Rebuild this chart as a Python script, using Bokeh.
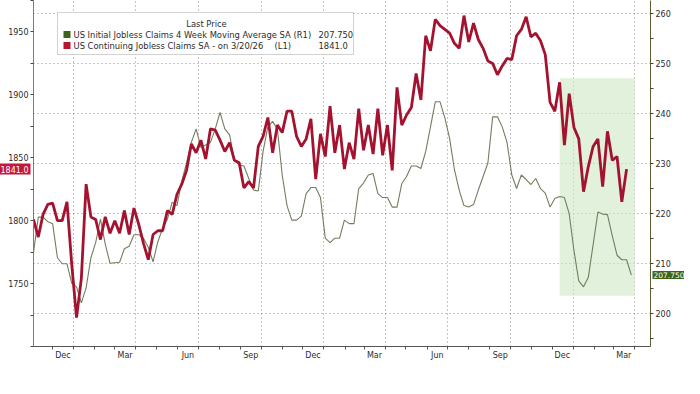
import pandas as pd
from bokeh.plotting import figure
from bokeh.models import (Range1d, LinearAxis, FixedTicker, Grid, Label,
                          BoxAnnotation, DatetimeTickFormatter)
from bokeh.embed import file_html
from bokeh.resources import INLINE

# ---------------- data ----------------
first_week = "2023-11-03"
last_date_text = "3/20/26"

continuing_claims = [
    1801, 1787, 1805, 1813, 1814, 1800, 1800, 1815, 1765, 1723,
    1754, 1829, 1803, 1801, 1785, 1803, 1790, 1800, 1790, 1808,
    1789, 1810, 1797, 1782, 1769, 1789, 1792, 1792, 1808, 1805,
    1821, 1829, 1840, 1861, 1854, 1864, 1849, 1873, 1872, 1864,
    1855, 1862, 1848, 1846, 1826, 1831, 1826, 1859, 1867, 1882,
    1854, 1876, 1870, 1887, 1887, 1867, 1859, 1865, 1881, 1833,
    1869, 1851, 1891, 1854, 1876, 1841, 1862, 1849, 1889, 1856,
    1876, 1853, 1889, 1852, 1876, 1840, 1906, 1876, 1884, 1890,
    1917, 1896, 1947, 1935, 1960, 1955, 1952, 1949, 1941, 1937,
    1963, 1942, 1957, 1944, 1937, 1927, 1925, 1916, 1923, 1929,
    1928, 1947, 1952, 1962, 1946, 1949, 1943, 1932, 1894, 1887,
    1910, 1860, 1901, 1874, 1865, 1823, 1843, 1859, 1865, 1827,
    1871, 1848, 1851, 1815, 1841.0,
]

initial_claims_4wk = [
    212.2, 219.3, 219.3, 218.4, 218.0, 211.2, 210.0, 210.0, 206.1, 205.4,
    202.2, 205.2, 211.2, 214.2, 218.9, 213.9, 210.1, 210.2, 210.3, 213.0,
    213.5, 215.8, 215.8, 215.1, 213.3, 210.4, 214.4, 217.1, 218.9, 222.3,
    221.6, 226.5, 230.1, 234.2, 236.9, 233.2, 233.7, 234.2, 236.9, 240.2,
    236.9, 235.7, 230.6, 229.7, 229.5, 227.0, 224.7, 224.5, 232.4, 237.3,
    238.4, 236.8, 227.7, 221.6, 218.7, 218.7, 219.5, 224.0, 225.2, 225.2,
    223.2, 215.1, 214.2, 215.1, 215.1, 218.7, 218.0, 218.0, 225.0, 226.1,
    227.7, 228.0, 224.0, 223.2, 223.2, 221.3, 221.3, 226.0, 227.4, 229.5,
    229.5, 229.0, 232.4, 237.3, 242.3, 242.3, 239.1, 235.0, 228.8, 224.7,
    221.6, 221.3, 221.8, 224.7, 227.4, 230.1, 239.3, 239.3, 237.3, 234.2,
    227.7, 225.0, 227.7, 226.8, 225.8, 227.0, 225.0, 224.1, 221.3, 223.0,
    223.4, 223.2, 220.0, 212.6, 206.6, 205.4, 207.3, 213.8, 220.3, 219.9,
    219.8, 215.6, 211.7, 210.8, 210.8, 207.75,
]

# highlight region (right-axis units)
highlight_start = ["2025-12-12"]
highlight_end = ["2026-04-01"]
highlight_low = [203.6]
highlight_high = [247.0]

x_start, x_end = "2023-11-03", "2026-04-24"
left_range = (1700, 1975)
right_range = (193.5, 262.5)
left_major = [1750, 1800, 1850, 1900, 1950]
left_minor = [1700, 1725, 1775, 1825, 1875, 1925, 1975]
right_major = [200, 210, 220, 230, 240, 250, 260]
right_minor = [195, 205, 215, 225, 235, 245, 255]
label_months = ["2023-12-16", "2024-03-16", "2024-06-16", "2024-09-16",
                "2024-12-16", "2025-03-16", "2025-06-16", "2025-09-16",
                "2025-12-16", "2026-03-16"]
grid_months = ["2024-01-01", "2024-04-01", "2024-07-01", "2024-10-01",
               "2025-01-01", "2025-04-01", "2025-07-01", "2025-10-01",
               "2026-01-01", "2026-04-01"]

# ---------------- styling ----------------
RED = "#a3132f"
GREEN_LINE = "#727e5e"
GREEN_DARK = "#3d6318"
FONT = "DejaVu Sans"
TXT = "#2b2b2b"
GRID = "#8a8a8a"
DASH = "1 3"
FW, FH = 617, 346


def ms(d):
    return pd.Timestamp(d).value / 1e6


red_dates = pd.date_range(first_week, periods=len(continuing_claims), freq="7D")
green_dates = pd.date_range(first_week, periods=len(initial_claims_4wk), freq="7D")

p = figure(frame_width=FW, frame_height=FH, x_axis_type="datetime",
           x_range=Range1d(pd.Timestamp(x_start), pd.Timestamp(x_end)),
           y_range=Range1d(*left_range),
           output_backend="svg", toolbar_location=None,
           min_border_left=33, min_border_right=34,
           min_border_top=0, min_border_bottom=0)
p.extra_y_ranges = {"right": Range1d(*right_range)}
p.outline_line_color = None
p.background_fill_color = "white"
p.border_fill_color = "white"

# left axis
la = p.yaxis[0]
la.ticker = FixedTicker(ticks=left_major, minor_ticks=left_minor)
la.axis_line_color = "#c4587a"
la.major_tick_line_color = "#444"
la.minor_tick_line_color = "#444"
la.major_tick_out = 3
la.major_tick_in = 0
la.minor_tick_out = 3
la.minor_tick_in = 0
la.major_label_text_font = FONT
la.major_label_text_font_size = "8px"
la.major_label_text_color = TXT
la.major_label_standoff = 2

# right axis
ra = LinearAxis(y_range_name="right",
                ticker=FixedTicker(ticks=right_major, minor_ticks=right_minor))
ra.axis_line_color = "#5c5c30"
ra.major_tick_line_color = "#444"
ra.minor_tick_line_color = "#444"
ra.major_tick_out = 3
ra.major_tick_in = 0
ra.minor_tick_out = 3
ra.minor_tick_in = 0
ra.major_label_text_font = FONT
ra.major_label_text_font_size = "8px"
ra.major_label_text_color = TXT
ra.major_label_standoff = 2
p.add_layout(ra, "right")

# x axis
xa = p.xaxis[0]
month_starts = [ms(d) for d in pd.date_range("2023-12-01", "2026-04-01", freq="MS")]
xa.ticker = FixedTicker(ticks=[ms(d) for d in label_months], minor_ticks=month_starts)
xa.formatter = DatetimeTickFormatter(days="%b", months="%b", years="%b")
xa.major_tick_line_color = None
xa.major_tick_out = 3
xa.major_tick_in = 0
xa.minor_tick_out = 3
xa.minor_tick_in = 0
xa.minor_tick_line_color = "#555"
xa.axis_line_color = "#555"
xa.major_label_text_font = FONT
xa.major_label_text_font_size = "8px"
xa.major_label_text_color = TXT
xa.major_label_standoff = 1

# grids
p.xgrid.ticker = FixedTicker(ticks=[ms(d) for d in grid_months])
p.xgrid.grid_line_color = GRID
p.xgrid.grid_line_dash = DASH
p.xgrid.grid_line_width = 1
p.ygrid.visible = False
hg = Grid(dimension=1, axis=ra, y_range_name="right",
          ticker=FixedTicker(ticks=right_major),
          grid_line_color=GRID, grid_line_dash=DASH, grid_line_width=1)
p.add_layout(hg)

# highlight
p.quad(left=pd.to_datetime(highlight_start), right=pd.to_datetime(highlight_end),
       bottom=highlight_low, top=highlight_high, y_range_name="right",
       fill_color="#cde8c3", fill_alpha=0.6, line_color=None)

# series
p.line(green_dates, initial_claims_4wk, y_range_name="right",
       line_color=GREEN_LINE, line_width=1.1)
p.line(red_dates, continuing_claims, line_color=RED, line_width=2.8)


# legend box (screen units, measured from the frame's bottom-left)
def top(d):
    return FH - d


def box(l, r, t, b, fill, line=None):
    p.add_layout(BoxAnnotation(left=l, right=r, top=top(t), bottom=top(b),
                               left_units="screen", right_units="screen",
                               top_units="screen", bottom_units="screen",
                               fill_color=fill, fill_alpha=1,
                               line_color=line, line_width=1))


box(24, 320, 12, 54, "white", "#6a6a6a")
box(30, 37, 30.5, 37.5, GREEN_DARK)
box(30, 37, 41.5, 48.5, "#b5172f")


def txt(x, d, s, align="left"):
    p.add_layout(Label(x=x, y=top(d), x_units="screen", y_units="screen", text=s,
                       text_font=FONT, text_font_size="8.4px", text_color=TXT,
                       text_align=align, text_baseline="middle"))


txt(173, 23, "Last Price", "center")
txt(40, 34, "US Initial Jobless Claims 4 Week Moving Average SA")
txt(260, 34, "(R1)")
txt(285, 34, f"{initial_claims_4wk[-1]:.3f}")
txt(40, 45, f"US Continuing Jobless Claims SA -  on {last_date_text}")
txt(241, 45, "(L1)")
txt(285, 45, f"{continuing_claims[-1]:.1f}")

# value badges: kept in the lower side panel so they are not clipped to the frame
left_badge = Label(x=pd.Timestamp(x_start), y=continuing_claims[-1], x_offset=-3,
                   text=f"{continuing_claims[-1]:.1f}", text_align="right",
                   text_baseline="middle", text_font=FONT, text_font_size="8px",
                   text_color="white", background_fill_color="#c4173c",
                   padding=2)
right_badge = Label(x=pd.Timestamp(x_end), y=initial_claims_4wk[-1], x_offset=2,
                    y_range_name="right",
                    text=f"{initial_claims_4wk[-1]:.3f}", text_align="left",
                    text_baseline="middle", text_font=FONT, text_font_size="7.5px",
                    text_color="white", background_fill_color=GREEN_DARK,
                    padding=1)
p.add_layout(left_badge, "below")
p.add_layout(right_badge, "below")

open("out.html", "w").write(file_html(p, INLINE))
